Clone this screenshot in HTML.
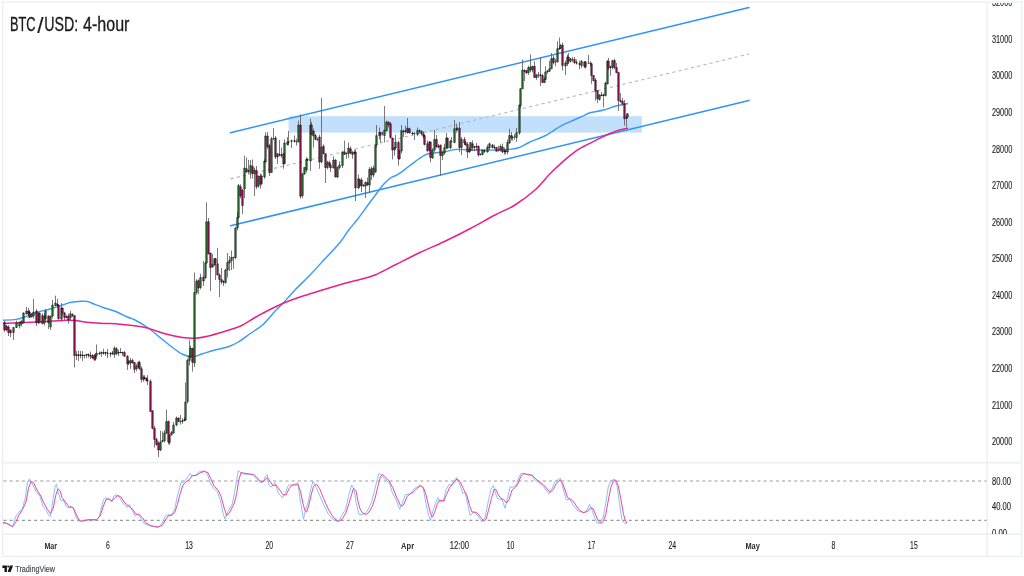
<!DOCTYPE html>
<html lang="en"><head><meta charset="utf-8"><title>BTC/USD: 4-hour</title>
<style>
html,body{margin:0;padding:0;background:#fff;}
body{width:1024px;height:576px;overflow:hidden;position:relative;font-family:"Liberation Sans","DejaVu Sans",sans-serif;}
svg{position:absolute;left:0;top:0;display:block;}
text{font-family:"Liberation Sans","DejaVu Sans",sans-serif;}
.ax{font-size:10px;fill:#1d1d1d;stroke:#1d1d1d;stroke-width:0.12px;}
.axb{font-size:9.6px;font-weight:bold;fill:#2c2c2c;}
</style></head><body>
<svg width="1024" height="576" viewBox="0 0 1024 576">
<rect width="1024" height="576" fill="#fff"/>
<defs><clipPath id="cm"><rect x="2.8" y="2.8" width="984" height="459.5"/></clipPath><clipPath id="cs"><rect x="2.8" y="463" width="984" height="71"/></clipPath><clipPath id="cp"><rect x="988" y="2.9" width="33" height="459"/></clipPath><clipPath id="cq"><rect x="988" y="463" width="33" height="70.9"/></clipPath></defs>
<g stroke="#eceef4" stroke-width="1.4" fill="none" style="filter:blur(0.35px)">
<path d="M2.6 2.15H1021.6V556.4H2.6z"/>
<path d="M2.6 462.8H1021.6"/>
<path d="M2.6 534.3H1021.6"/>
<path d="M987.1 2.15V556.4"/>
</g>
<g style="filter:blur(0.32px)">
<g clip-path="url(#cm)">
<rect x="288.6" y="116.2" width="353.2" height="16.4" fill="#bbdcfb" fill-opacity="0.9"/>
<path d="M230.5 178.9L749 54" stroke="#b4b4b4" stroke-width="1.1" stroke-dasharray="3.2 3.2" fill="none"/>
<g stroke="#3094f3" stroke-width="1.55" fill="none" stroke-linecap="round">
<path d="M230.4 132.7L749 7.5"/><path d="M230.6 225.8L749 100.4"/></g>
<path d="M3 320.25C5.17 320.11 12.33 319.96 16 319.4C19.67 318.84 21.42 318.09 25 316.9C28.58 315.71 33.33 313.57 37.5 312.25C41.67 310.93 45.83 310.21 50 309C54.17 307.79 58.96 306.12 62.5 305C66.04 303.88 68.12 302.88 71.25 302.25C74.38 301.62 78.54 301.38 81.25 301.25C83.96 301.12 85.21 300.98 87.5 301.5C89.79 302.02 92.29 303.36 95 304.4C97.71 305.44 100.42 306.61 103.75 307.75C107.08 308.89 110.96 309.67 115 311.25C119.04 312.83 124.67 315.79 128 317.25C131.33 318.71 131.75 318.29 135 320C138.25 321.71 143.33 324.58 147.5 327.5C151.67 330.42 155.83 334.17 160 337.5C164.17 340.83 168.75 344.71 172.5 347.5C176.25 350.29 179.17 352.71 182.5 354.25C185.83 355.79 189.17 356.83 192.5 356.75C195.83 356.67 198.75 354.88 202.5 353.75C206.25 352.62 210.83 351.12 215 350C219.17 348.88 223.75 348.25 227.5 347C231.25 345.75 233.75 344.71 237.5 342.5C241.25 340.29 245.83 336.67 250 333.75C254.17 330.83 258.33 328.75 262.5 325C266.67 321.25 271.46 315 275 311.25C278.54 307.5 280.42 306.04 283.75 302.5C287.08 298.96 290.62 294.58 295 290C299.38 285.42 305 280.21 310 275C315 269.79 320 264.17 325 258.75C330 253.33 336.04 247.29 340 242.5C343.96 237.71 345.75 233.96 348.75 230C351.75 226.04 354.79 222.92 358 218.75C361.21 214.58 365.08 208.96 368 205C370.92 201.04 373 198.33 375.5 195C378 191.67 380.5 187.83 383 185C385.5 182.17 388 179.77 390.5 178C393 176.23 394.92 176.36 398 174.4C401.08 172.44 405.5 168.86 409 166.25C412.5 163.64 416.08 160.72 419 158.75C421.92 156.78 424 155.36 426.5 154.4C429 153.44 431.08 153.42 434 153C436.92 152.58 440.25 152.5 444 151.9C447.75 151.3 451.83 149.72 456.5 149.4C461.17 149.08 464.5 149.9 472 150C479.5 150.1 493.88 150.33 501.5 150C509.12 149.67 513.17 149.25 517.75 148C522.33 146.75 524.62 144.46 529 142.5C533.38 140.54 540.25 138 544 136.25C547.75 134.5 548.58 133.78 551.5 132C554.42 130.22 557.75 127.6 561.5 125.6C565.25 123.6 570.25 121.67 574 120C577.75 118.33 581.33 116.81 584 115.6C586.67 114.39 586.71 113.68 590 112.75C593.29 111.82 599.58 111.08 603.75 110C607.92 108.92 610.96 107.33 615 106.25C619.04 105.17 625.83 103.96 628 103.5" stroke="#3b9af3" stroke-width="1.42" fill="none" stroke-linejoin="round"/>
<path d="M3 323.4C6.67 323.25 17.17 322.86 25 322.5C32.83 322.14 43.33 321.62 50 321.25C56.67 320.88 60.83 320.38 65 320.25C69.17 320.12 70.83 320.12 75 320.5C79.17 320.88 84.83 322.02 90 322.5C95.17 322.98 101 323.11 106 323.4C111 323.69 113.5 323.57 120 324.25C126.5 324.93 137.5 325.92 145 327.5C152.5 329.08 158.75 332.08 165 333.75C171.25 335.42 177.5 336.75 182.5 337.5C187.5 338.25 190.83 338.46 195 338.25C199.17 338.04 202.5 337.42 207.5 336.25C212.5 335.08 219.58 332.92 225 331.25C230.42 329.58 235 328.54 240 326.25C245 323.96 250 320.29 255 317.5C260 314.71 265.21 311.92 270 309.5C274.79 307.08 278.75 305.08 283.75 303C288.75 300.92 293.96 299.04 300 297C306.04 294.96 312.5 293.04 320 290.75C327.5 288.46 338.33 285.12 345 283.25C351.67 281.38 355 280.88 360 279.5C365 278.12 369.17 277.42 375 275C380.83 272.58 387.5 268.75 395 265C402.5 261.25 411.67 256.46 420 252.5C428.33 248.54 436.67 245.21 445 241.25C453.33 237.29 461.67 233.12 470 228.75C478.33 224.38 487.5 218.96 495 215C502.5 211.04 508.33 209.17 515 205C521.67 200.83 529.17 195.21 535 190C540.83 184.79 545.17 178.65 550 173.75C554.83 168.85 559.58 164.46 564 160.6C568.42 156.74 573.17 152.99 576.5 150.6C579.83 148.21 581.54 147.57 584 146.25C586.46 144.93 588.58 144.04 591.25 142.7C593.92 141.36 596.88 139.73 600 138.2C603.12 136.67 606.88 134.82 610 133.5C613.12 132.18 615.75 131.18 618.75 130.3C621.75 129.42 626.46 128.55 628 128.2" stroke="#ea2088" stroke-width="1.5" fill="none" stroke-linejoin="round"/>
<path d="M4.5 321V332M6.5 324.8V330.8M8.5 325.2V336M10.5 329.6V337M13.5 327.1V340M16.5 320.6V327.9M19.5 321.3V328.4M21.5 320.6V326.4M23.5 312.2V323.4M26.5 307V314.4M28.5 308V315.8M29.5 310.2V317.9M31.5 313.2V317.4M33.5 298.75V318.4M36.5 309.2V326M38.5 312.6V324.4M39.5 312.6V323.3M42.5 313.2V324.15M44.5 313.6V325.4M45.5 309.2V319.4M48.5 315.2V329M50.5 315.6V330M52.5 300V318.4M55.5 295.6V306.4M57.5 298.75V307.2M58.5 303.8V319.55M61.5 303V321.4M62.5 307.6V315.4M64.5 311.8V319.9M66.5 315.2V318.4M68.5 313.6V323.75M70.5 311V319.9M72.5 313.2V317.2M74.5 315.2V367.5M76.5 351V360M78.5 350.6V361M80.5 351V358.4M82.5 351.1V361M84.5 354.7V358.4M86.5 353.7V357.9M88.5 353.4V357.6M90.5 351.6V358.9M92.5 354V359M94.5 354V361M95.5 353.6V360.6M96.5 344.4V356.6M99.5 351.5V355.1M101.5 351.4V356.9M103.5 348.75V354.6M105.5 351.7V355.9M107.5 349V358M110.5 352V356.9M112.5 350.9V355M114.5 346.25V357.8M116.5 347.15V354.75M118.5 349.6V356M120.5 348V353.3M122.5 351.7V355.9M124.5 350.9V356.85M127.5 355.05V370M128.5 360.2V365.3M130.5 358V368.75M132.5 358.7V363.4M134.5 362.1V373M136.5 363.85V371.15M138.5 361.3V368.2M139.5 360.6V369.95M141.5 366.35V382.5M143.5 375.2V381.8M144.5 375.2V379.4M146.5 377.6V381.7M147.5 375V385M150.5 379.45V411.8M152.5 410.35V429.45M154.5 425.85V447.6M156.5 437.7V445.7M158.5 441.2V457M160.5 430.75V451.2M162.5 431.4V442.4M164.5 430V442.55M166.5 409.5V434.2M168.5 420.6V444.4M169.5 434.6V445M171.5 430.8V435.4M173.5 422V433.8M176.5 416.4V426.2M178.5 417.2V422.2M180.5 415V424.5M182.5 418.2V423.8M184.5 417.2V421.4M185.5 382.5V420.8M187.5 358.6V403.4M189.5 340.4V365.4M190.5 345.6V357.8M192.5 347.7V371.6M194.5 272.5V367M196.5 279.2V294.9M198.5 279.4V294M200.5 273.75V289.3M203.5 261V286M205.5 261.8V279.3M206.5 202.4V263.8M208.5 218V254.55M210.5 252.6V291M212.5 254V267.8M214.5 257.95V265.8M215.5 257.95V280M217.5 248V275.4M219.5 273.2V297M221.5 268V284.4M223.5 280.2V286M225.5 268.8V283.7M227.5 253V277.5M229.5 256V271M231.5 250.6V270M233.5 256.6V268.75M235.5 227.2V259.3M237.5 211.75V230.4M238.5 184V218.6M240.5 184.35V198.4M242.5 188.8V214M244.5 155.6V198M246.5 157.5V172.8M248.5 160V174.4M250.5 160V178.6M252.5 159.4V178.6M254.5 167.6V196M256.5 166V189M258.5 175.6V187.8M260.5 173.6V188.6M261.5 174.2V185.3M264.5 159.2V178.8M265.5 132.5V162.4M267.5 132V148.8M269.5 143.8V176M271.5 136.9V172.9M273.5 128V140.05M275.5 136V159M277.5 153.35V164M279.5 140V156.4M281.5 147.5V158.05M283.5 152.95V168.75M284.5 139.4V164.15M287.5 137V145.6M288.5 131V145.4M291.5 139.6V148M294.5 135.6V142.4M296.5 138.75V145.6M298.5 120.6V142.4M300.5 114.4V198.65M302.5 172.95V198M304.5 167.1V174.95M306.5 157V172.4M307.5 158.35V161M310.5 118.75V171M311.5 122V135.2M313.5 128.6V147.5M315.5 133.8V140.2M317.5 137.55V141.2M319.5 134.6V168.75M321.5 98V163.2M323.5 144.45V154.15M325.5 153.35V183M327.5 160.7V169.3M329.5 160.7V166.8M330.5 163.8V172M333.5 156.25V168.4M335.5 159.2V177.4M337.5 166.3V178.2M339.5 161.25V169.3M342.5 151.2V168M344.5 140.6V154.8M346.5 152.2V158.75M348.5 142.5V158M350.5 146.35V154.2M352.5 151.2V158.75M354.5 149.6V154.4M355.5 149.6V201M358.5 174.4V189.2M359.5 179V187.2M361.5 177.6V192M363.5 183.8V187.05M365.5 181.3V198M367.5 177.5V185.8M369.5 167V193M371.5 166.35V180M373.5 165.6V177.4M375.5 144.4V172.8M376.5 125V147.4M379.5 127.5V139.4M380.5 131.7V142.5M382.5 131.7V135.55M384.5 106V142.5M386.5 120.6V131.4M388.5 121.2V127.4M390.5 121.95V138.7M392.5 137.6V159.4M394.5 147.1V155.6M395.5 135V149.2M398.5 140.7V165.6M399.5 149.8V159.55M401.5 125V153.4M403.5 129.4V137M405.5 125.6V133.8M407.5 118V133.7M409.5 127.55V133.4M412.5 131.7V134.8M414.5 132.2V140M417.5 127.5V136.2M419.5 129.2V133.2M421.5 130.45V135.55M423.5 131.35V138.65M424.5 135.2V145.6M427.5 140.6V152.4M429.5 140.8V151M430.5 141.6V162.5M432.5 148.2V158.8M434.5 130V151.8M436.5 135V147.8M438.5 143.8V148.7M440.5 144.6V175.6M442.5 150.7V160M444.5 143.75V154.8M446.5 133V149.3M447.5 137.6V148.8M450.5 140.2V148.8M451.5 137V142.4M454.5 120V143.3M456.5 123.75V132.4M457.5 126.95V130.8M459.5 122V152M461.5 137V155M464.5 137V144.8M465.5 141.3V145.8M467.5 142V158M469.5 147V152.8M470.5 142.2V150.9M472.5 140.35V150.9M474.5 145.95V151.25M476.5 143.2V150.9M478.5 145.65V156.6M480.5 153.15V155.6M482.5 149.7V155.4M484.5 149.4V153M487.5 144.6V152.6M489.5 142.5V149.9M492.5 144V148.5M494.5 144.5V149.6M496.5 146.9V151.55M498.5 146V151.6M500.5 144.4V151.6M502.5 143.6V153M504.5 147.6V154.4M505.5 149V154.4M507.5 139.4V154.4M509.5 128.75V143.8M511.5 132V140.4M512.5 136.2V140.6M514.5 133.85V139.9M516.5 128V142M519.5 104.6V134.8M520.5 87.95V108M522.5 59.4V89.15M524.5 69.2V81M526.5 69.8V73.8M528.5 65.7V75M530.5 54.4V72.4M532.5 65.85V72.4M534.5 61.25V77.9M536.5 73.8V79.9M538.5 72V78M540.5 57.5V86M542.5 73.8V82.9M544.5 77V82.9M545.5 66.25V80.2M547.5 69.8V73.7M549.5 60.6V71.65M551.5 53V69.15M553.5 55.6V64.3M555.5 58.85V66.25M557.5 41.25V62.4M559.5 37.5V49.8M560.5 43.8V49.2M562.5 42.5V70.6M565.5 60.6V75M567.5 54.6V66.15M568.5 53V63.65M570.5 57.95V62.45M572.5 56.95V62.4M574.5 57V64.3M576.5 59.5V64.55M579.5 60.6V69.4M581.5 60.05V68M584.5 61.1V68.05M585.5 61.1V68.7M588.5 55V64.15M590.5 61.2V66.2M591.5 62.55V83.75M593.5 75.2V81.4M595.5 78.2V100.6M597.5 90.2V103M599.5 94.2V100.6M601.5 91.9V96.4M603.5 93.6V107.5M605.5 81.8V96.4M607.5 60.05V84.55M608.5 58V69.8M610.5 65.45V75.6M612.5 60.2V69.3M614.5 58.75V69.3M616.5 63V73.3M618.5 71.7V111M620.5 93V102.7M622.5 98V105.55M624.5 100V125.6M626.5 114.5V127.5M627.5 113V118.8" stroke="#585858" stroke-width="0.8" fill="none"/>
<path d="M56.6 304.26h1.8V305.49h-1.8zM65.6 316.45h1.8V317.55h-1.8zM71.6 314.45h1.8V315.55h-1.8zM75.6 354.45h1.8V355.55h-1.8zM77.6 354.82h1.8V355.68h-1.8zM79.6 354.45h1.8V355.55h-1.8zM81.6 354.95h1.8V356.05h-1.8zM83.6 355.07h1.8V355.93h-1.8zM85.6 354.32h1.8V355.18h-1.8zM87.6 354.45h1.8V355.55h-1.8zM89.6 355.32h1.8V356.18h-1.8zM98.6 352.95h1.8V354.05h-1.8zM100.6 352.32h1.8V353.18h-1.8zM102.6 352.45h1.8V353.55h-1.8zM104.6 352.32h1.8V353.18h-1.8zM106.6 352.82h1.8V353.68h-1.8zM109.6 353.32h1.8V354.18h-1.8zM111.6 352.82h1.8V353.68h-1.8zM117.6 352.32h1.8V353.18h-1.8zM119.6 352.07h1.8V352.93h-1.8zM121.6 352.32h1.8V353.18h-1.8zM143.6 377.45h1.8V378.55h-1.8zM146.6 379.82h1.8V380.83h-1.8zM161.6 440.45h1.8V441.55h-1.8zM179.6 420.95h1.8V421.8h-1.8zM181.6 420.45h1.8V421.55h-1.8zM183.6 419.45h1.8V420.55h-1.8zM222.6 281.45h1.8V282.55h-1.8zM232.6 257.07h1.8V257.93h-1.8zM247.6 170.45h1.8V171.55h-1.8zM272.6 138.2h1.8V139.05h-1.8zM278.6 154.17h1.8V155.18h-1.8zM280.6 154.82h1.8V155.83h-1.8zM287.6 141.64h1.8V142.61h-1.8zM290.6 140.45h1.8V141.55h-1.8zM293.6 140.45h1.8V141.55h-1.8zM295.6 141.45h1.8V142.3h-1.8zM306.6 159.17h1.8V160.18h-1.8zM316.6 138.95h1.8V139.8h-1.8zM345.6 153.27h1.8V154.12h-1.8zM353.6 152.45h1.8V153.55h-1.8zM362.6 185.2h1.8V186.05h-1.8zM381.6 132.7h1.8V133.55h-1.8zM402.6 131.03h1.8V132.07h-1.8zM404.6 130.45h1.8V131.55h-1.8zM411.6 132.93h1.8V133.97h-1.8zM413.6 133.27h1.8V134.12h-1.8zM418.6 130.45h1.8V131.55h-1.8zM437.6 146.03h1.8V147.07h-1.8zM450.6 140.88h1.8V141.73h-1.8zM455.6 128.45h1.8V129.55h-1.8zM456.6 128.95h1.8V129.8h-1.8zM473.6 146.64h1.8V147.61h-1.8zM475.6 146.03h1.8V147.07h-1.8zM479.6 153.95h1.8V154.8h-1.8zM483.6 150.45h1.8V151.55h-1.8zM493.6 147.02h1.8V147.88h-1.8zM497.6 149.57h1.8V150.43h-1.8zM503.6 150.45h1.8V151.55h-1.8zM504.6 151.03h1.8V152.07h-1.8zM511.6 137.07h1.8V137.93h-1.8zM513.6 136.45h1.8V137.3h-1.8zM523.6 70.45h1.8V71.55h-1.8zM537.6 74.58h1.8V75.42h-1.8zM539.6 74.82h1.8V75.83h-1.8zM546.6 71.03h1.8V72.07h-1.8zM554.6 61.45h1.8V62.3h-1.8zM558.6 47.93h1.8V48.97h-1.8zM571.6 58.95h1.8V59.8h-1.8zM575.6 62.32h1.8V63.33h-1.8zM578.6 63.45h1.8V64.55h-1.8zM587.6 62.7h1.8V63.55h-1.8zM589.6 63.28h1.8V64.12h-1.8zM600.6 94.76h1.8V95.64h-1.8zM602.6 94.76h1.8V95.64h-1.8zM609.6 66.64h1.8V67.61h-1.8zM619.6 100.43h1.8V101.47h-1.8zM625.6 117.32h1.8V118.33h-1.8z" fill="#1c1a1c"/>
<path d="M12.72 327.5h1.55V332.5h-1.55zM15.72 323h1.55V327.5h-1.55zM18.73 322.5h1.55V326h-1.55zM20.73 321h1.55V324h-1.55zM22.73 313h1.55V323h-1.55zM25.73 311h1.55V314h-1.55zM30.73 314h1.55V317h-1.55zM32.73 312h1.55V316h-1.55zM37.73 313h1.55V322h-1.55zM43.73 316h1.55V323h-1.55zM44.73 311h1.55V319h-1.55zM49.73 316h1.55V327h-1.55zM51.73 305h1.55V316h-1.55zM54.73 303h1.55V305.6h-1.55zM60.73 308h1.55V319h-1.55zM69.72 313.75h1.55V317.5h-1.55zM76 354.55h1V355.45h-1zM80 354.55h1V355.45h-1zM86 354.43h1V355.07h-1zM94.72 356h1.55V359h-1.55zM95.72 353h1.55V355.6h-1.55zM99 353.05h1V353.95h-1zM101 352.43h1V353.07h-1zM105 352.43h1V353.07h-1zM110 353.43h1V354.07h-1zM112 352.93h1V353.57h-1zM113.72 348h1.55V354.4h-1.55zM127.72 361h1.55V363.5h-1.55zM129.72 360.6h1.55V363h-1.55zM135.72 366.25h1.55V368.75h-1.55zM137.72 362.5h1.55V367h-1.55zM142.72 377h1.55V379.4h-1.55zM159.72 442h1.55V450h-1.55zM162 440.55h1V441.45h-1zM163.72 433h1.55V440.75h-1.55zM165.72 421.4h1.55V433h-1.55zM168.72 435h1.55V442.6h-1.55zM170.72 432.6h1.55V435h-1.55zM172.72 425h1.55V433h-1.55zM175.72 418h1.55V425h-1.55zM182 420.55h1V421.45h-1zM184 419.55h1V420.45h-1zM184.72 402h1.55V420h-1.55zM186.72 360.4h1.55V401.6h-1.55zM188.72 356h1.55V360.4h-1.55zM189.72 348h1.55V356.6h-1.55zM193.72 292.5h1.55V362.9h-1.55zM195.72 281h1.55V292.5h-1.55zM199.72 277.5h1.55V287.5h-1.55zM204.72 263h1.55V277.5h-1.55zM205.72 221.75h1.55V263h-1.55zM211.72 264.4h1.55V267h-1.55zM213.72 258.75h1.55V265h-1.55zM223 281.55h1V282.45h-1zM224.72 270h1.55V282.5h-1.55zM226.72 262.5h1.55V270h-1.55zM228.72 260.6h1.55V263h-1.55zM230.72 257.5h1.55V260.6h-1.55zM234.72 228h1.55V257.5h-1.55zM236.72 217.4h1.55V228h-1.55zM237.72 185.5h1.55V217.4h-1.55zM243.72 168h1.55V189h-1.55zM249.72 165.6h1.55V172.5h-1.55zM253.72 170h1.55V173.75h-1.55zM257.73 176h1.55V186h-1.55zM260.73 176h1.55V183.5h-1.55zM263.73 161h1.55V177h-1.55zM264.73 136h1.55V162h-1.55zM270.73 138.75h1.55V172.5h-1.55zM276.73 153.75h1.55V157h-1.55zM283.73 143h1.55V163.75h-1.55zM286.73 142h1.55V144.4h-1.55zM288 141.74h1V142.51h-1zM291 140.55h1V141.45h-1zM297.73 125h1.55V142h-1.55zM301.73 173.75h1.55V195.6h-1.55zM303.73 167.5h1.55V173.75h-1.55zM305.73 159.4h1.55V170h-1.55zM309.73 125h1.55V161h-1.55zM320.73 147h1.55V162h-1.55zM326.73 162.5h1.55V167.5h-1.55zM332.73 160h1.55V168h-1.55zM336.73 167.5h1.55V177h-1.55zM338.73 165h1.55V167.5h-1.55zM341.73 152h1.55V165.6h-1.55zM347.73 148h1.55V153.75h-1.55zM351.73 152h1.55V154.4h-1.55zM357.73 178.75h1.55V188h-1.55zM364.73 182.5h1.55V186.25h-1.55zM368.73 169.4h1.55V185h-1.55zM372.73 168h1.55V175h-1.55zM374.73 145.6h1.55V172h-1.55zM375.73 135.6h1.55V145h-1.55zM378.73 132.5h1.55V135.6h-1.55zM383.73 130h1.55V135.6h-1.55zM385.73 122h1.55V130.6h-1.55zM393.73 147.5h1.55V150h-1.55zM394.73 142h1.55V148h-1.55zM398.73 151h1.55V158.75h-1.55zM400.73 130.6h1.55V151h-1.55zM405 130.55h1V131.45h-1zM416.73 130.6h1.55V134.4h-1.55zM419 130.55h1V131.45h-1zM428.73 142h1.55V150.6h-1.55zM431.73 150h1.55V158h-1.55zM433.73 139.4h1.55V150h-1.55zM441.73 152.5h1.55V155.6h-1.55zM443.73 147.5h1.55V153h-1.55zM445.73 138h1.55V147.5h-1.55zM449.73 141h1.55V148h-1.55zM453.73 128.75h1.55V142.5h-1.55zM460.73 139.4h1.55V147.5h-1.55zM469.73 142.5h1.55V150.6h-1.55zM481.73 150h1.55V154.4h-1.55zM484 150.55h1V151.45h-1zM486.73 147h1.55V152h-1.55zM488.73 143.75h1.55V147.5h-1.55zM499.73 146.25h1.55V150h-1.55zM506.73 142.5h1.55V152h-1.55zM508.73 135.6h1.55V143h-1.55zM515.73 132.5h1.55V137.5h-1.55zM518.73 105h1.55V133h-1.55zM519.73 88.75h1.55V105.6h-1.55zM521.73 70h1.55V88.75h-1.55zM527.73 67.5h1.55V72.5h-1.55zM529.73 67h1.55V70h-1.55zM531.73 66.25h1.55V70h-1.55zM535.73 75h1.55V77.5h-1.55zM543.73 79.4h1.55V82.5h-1.55zM544.73 72h1.55V79.4h-1.55zM547 71.13h1V71.97h-1zM548.73 68.75h1.55V71.25h-1.55zM550.73 58.75h1.55V68.75h-1.55zM556.73 48.75h1.55V62h-1.55zM559 48.03h1V48.87h-1zM559.73 45.6h1.55V48h-1.55zM564.73 63h1.55V66h-1.55zM566.73 57h1.55V63.75h-1.55zM569.73 58.75h1.55V61.25h-1.55zM580.73 61.25h1.55V65.6h-1.55zM584.73 61.9h1.55V66.9h-1.55zM598.73 95h1.55V99.4h-1.55zM601 94.86h1V95.54h-1zM604.73 83h1.55V95.6h-1.55zM606.73 61.25h1.55V83.75h-1.55zM611.73 60.6h1.55V67.5h-1.55zM626.73 113.75h1.55V117h-1.55z" fill="#2a762f" stroke="#0c120c" stroke-width="0.5"/>
<path d="M3.73 322.5h1.55V330h-1.55zM5.72 326h1.55V330h-1.55zM7.72 327h1.55V332.5h-1.55zM9.72 330h1.55V333h-1.55zM27.73 311h1.55V314h-1.55zM28.73 312h1.55V317.5h-1.55zM35.73 311h1.55V323h-1.55zM38.73 313h1.55V322.5h-1.55zM41.73 315.6h1.55V323.75h-1.55zM47.73 316h1.55V323h-1.55zM57 304.36h1V305.39h-1zM57.73 305.6h1.55V318.75h-1.55zM61.73 308h1.55V313h-1.55zM63.73 313h1.55V317.5h-1.55zM66 316.55h1V317.45h-1zM67.72 316h1.55V320h-1.55zM72 314.55h1V315.45h-1zM73.72 315.6h1.55V355.6h-1.55zM78 354.93h1V355.57h-1zM82 355.05h1V355.95h-1zM88 354.55h1V355.45h-1zM90 355.43h1V356.07h-1zM91.72 355.6h1.55V358h-1.55zM93.72 355.6h1.55V359.4h-1.55zM103 352.55h1V353.45h-1zM107 352.93h1V353.57h-1zM115.72 348.75h1.55V353.75h-1.55zM118 352.43h1V353.07h-1zM122 352.43h1V353.07h-1zM123.72 352.5h1.55V356.25h-1.55zM126.72 356.25h1.55V363.75h-1.55zM131.72 360.5h1.55V363h-1.55zM133.72 362.5h1.55V369.4h-1.55zM138.72 362.5h1.55V368.75h-1.55zM140.72 368.75h1.55V379.4h-1.55zM144 377.55h1V378.45h-1zM145.72 378h1.55V380.5h-1.55zM147 379.92h1V380.73h-1zM149.72 381.25h1.55V411.4h-1.55zM151.72 410.75h1.55V428.25h-1.55zM153.72 428.25h1.55V439.5h-1.55zM155.72 439.5h1.55V444.5h-1.55zM157.72 443h1.55V450h-1.55zM167.72 421.4h1.55V442h-1.55zM177.72 418h1.55V421.4h-1.55zM191.72 348.5h1.55V362.25h-1.55zM197.72 280.6h1.55V288h-1.55zM202.72 277h1.55V281h-1.55zM207.72 221.75h1.55V253.75h-1.55zM209.72 253h1.55V267.5h-1.55zM214.72 258.75h1.55V263h-1.55zM216.72 263.75h1.55V275h-1.55zM218.72 275h1.55V279.4h-1.55zM220.72 279.4h1.55V282h-1.55zM239.72 186.75h1.55V196h-1.55zM241.72 190h1.55V205.5h-1.55zM245.72 168.75h1.55V172h-1.55zM248 170.55h1V171.45h-1zM251.72 166.25h1.55V173.6h-1.55zM255.72 170.6h1.55V186.75h-1.55zM259.73 176h1.55V184h-1.55zM266.73 136h1.55V147h-1.55zM268.73 145.6h1.55V172.5h-1.55zM274.73 138h1.55V157h-1.55zM279 154.27h1V155.08h-1zM281 154.92h1V155.73h-1zM282.73 153.75h1.55V163.75h-1.55zM294 140.55h1V141.45h-1zM299.73 125h1.55V196.25h-1.55zM307 159.27h1V160.08h-1zM310.73 125h1.55V134.4h-1.55zM312.73 131h1.55V136h-1.55zM314.73 135.6h1.55V139.4h-1.55zM318.73 137h1.55V162h-1.55zM322.73 146.25h1.55V153.75h-1.55zM324.73 153.75h1.55V167.5h-1.55zM328.73 162.5h1.55V165h-1.55zM329.73 165h1.55V168h-1.55zM334.73 160h1.55V177h-1.55zM343.73 152h1.55V154.4h-1.55zM349.73 148.75h1.55V153h-1.55zM354 152.55h1V153.45h-1zM354.73 152h1.55V188h-1.55zM358.73 179.4h1.55V186h-1.55zM360.73 180h1.55V186h-1.55zM366.73 182.5h1.55V185h-1.55zM370.73 168.75h1.55V175h-1.55zM379.73 132.5h1.55V135h-1.55zM387.73 122h1.55V125h-1.55zM389.73 123.75h1.55V137.5h-1.55zM391.73 138h1.55V150h-1.55zM397.73 142.5h1.55V158.75h-1.55zM403 131.13h1V131.97h-1zM406.73 128h1.55V132.5h-1.55zM408.73 128.75h1.55V133h-1.55zM412 133.03h1V133.87h-1zM420.73 131.25h1.55V133.75h-1.55zM422.73 133.75h1.55V136.25h-1.55zM423.73 135.6h1.55V144.4h-1.55zM426.73 143.75h1.55V150.6h-1.55zM429.73 142h1.55V157.5h-1.55zM435.73 139.4h1.55V147h-1.55zM438 146.13h1V146.97h-1zM439.73 145h1.55V155.6h-1.55zM446.73 138h1.55V148h-1.55zM456 128.55h1V129.45h-1zM458.73 128h1.55V147.5h-1.55zM463.73 139.4h1.55V143h-1.55zM464.73 142.5h1.55V145h-1.55zM466.73 144.4h1.55V152h-1.55zM468.73 149.4h1.55V152h-1.55zM471.73 143.75h1.55V147.5h-1.55zM474 146.74h1V147.51h-1zM476 146.13h1V146.97h-1zM477.73 146.25h1.55V155h-1.55zM491.73 145h1.55V147.5h-1.55zM495.73 147.5h1.55V151.25h-1.55zM501.73 147h1.55V152h-1.55zM504 150.55h1V151.45h-1zM505 151.13h1V151.97h-1zM510.73 135.6h1.55V138h-1.55zM524 70.55h1V71.45h-1zM525.73 70.6h1.55V73h-1.55zM533.73 66.25h1.55V77.5h-1.55zM540 74.92h1V75.73h-1zM541.73 75.6h1.55V82.5h-1.55zM552.73 58h1.55V62.5h-1.55zM561.73 45h1.55V65.6h-1.55zM567.73 57h1.55V61.25h-1.55zM573.73 59.4h1.55V62.5h-1.55zM576 62.42h1V63.23h-1zM579 63.55h1V64.45h-1zM583.73 61.9h1.55V66.25h-1.55zM590.73 63.75h1.55V75.6h-1.55zM592.73 75.6h1.55V80.6h-1.55zM594.73 80h1.55V91.25h-1.55zM596.73 90.6h1.55V98.75h-1.55zM603 94.86h1V95.54h-1zM607.73 61.25h1.55V68h-1.55zM610 66.74h1V67.51h-1zM613.73 60.6h1.55V67.5h-1.55zM615.73 67.5h1.55V72.5h-1.55zM617.73 72.5h1.55V100.6h-1.55zM620 100.53h1V101.37h-1zM621.73 101.25h1.55V103.75h-1.55zM623.73 103.75h1.55V118.75h-1.55zM626 117.42h1V118.23h-1z" fill="#98175a" stroke="#160a10" stroke-width="0.5"/>
</g>
<g clip-path="url(#cs)">
<g stroke="#999999" stroke-width="1.2" stroke-dasharray="3 3.13" fill="none">
<path d="M3.5 481H986.5"/><path d="M3.5 520.4H986.5"/></g>
<path d="M3 523.9L5 522.4L12.5 527L15.5 517L19 512L22 509.5L25 499.5L27.5 482L29.4 478.9L32 483.25L36 491.4L40 496.4L43 506.4L46 509.5L48.5 515L50.5 516.4L53 499.5L55 487L56.5 483.9L58 492L61 500.75L64 500.75L66 506.4L68 508.25L71 505.75L73.5 508.25L76 517L78 521L82 520.75L88 519.5L96 520L99 517L101 509.5L103.5 499.5L106 497.6L109 499.5L112 502L113.5 496.4L117 494.75L120 498.25L123 503.25L127 507.6L129.25 504.5L134.9 515.75L138.6 514.25L143.6 523.25L149.9 526L158 527.4L161.75 523.9L165.5 515.75L169.25 514.5L171.75 515L174.9 508.25L177.4 495.75L181 482.6L184.25 482L186.75 478.25L190.25 473.25L191.75 476L196 475L199.9 471.4L204.25 471L207.4 473.9L209.9 482L213 487.6L217.4 492L220.5 500.75L223 513.25L224.9 518.9L228 511.4L232.4 503.9L235.5 487L238.25 470.5L240.5 472.6L244.25 474.25L253 474.5L256 478.25L260.4 483L263.5 481.4L265.4 476.4L267.25 474.5L269 485L271 487.25L274.75 482.6L278.5 493.25L282.5 498L285.4 493.25L288.5 485L293.5 485L297.9 482.6L299.75 497L303.5 519.25L305.4 510L307.9 503.25L311 488.25L312.9 481.4L315.4 485.75L318.5 492.6L323.5 504.5L328.5 514.5L333.5 519.75L337.9 521.75L341.6 515.75L345.4 509.5L348.5 496.4L351.6 485L354 488.9L356 502L359 514.5L364.75 513.9L367.9 510L371.6 502L375.4 487L379 473.25L381.6 475L384 478.25L389.6 483.25L392.1 492L396.5 500.75L399.6 509.25L402.1 503.9L405.25 494.75L410.25 493.9L414 488.9L420.25 485.1L423.4 488.9L425.9 503.25L428.4 514.5L430.5 520.5L432.75 511.4L435.25 503.9L437.75 497.6L440.25 502.25L443.4 500.75L445.9 490.1L449 484.5L451.5 485.1L456.5 477.4L459 482.6L462.75 493.25L465.25 492.6L467.75 504.5L470.25 515.5L474 511.75L477.75 515.75L482.1 522L485.25 517L488.4 500.75L490.9 489.5L493.4 485.5L495.9 494.5L497.75 498.9L502.1 499.5L505 508.25L507.75 497L510.25 486.4L512 487.6L516.4 485.1L518.9 477L521.4 473L525.75 474.5L532 475.5L535.1 480.1L538.9 482.6L543.25 486.4L548.9 493.9L552 488.9L555.1 481.4L560.5 478.25L562.6 487L566.4 500.1L569.5 498.9L573.25 505.1L577 510.1L583.25 513L587 510.1L589.5 504.5L592 510.1L594.5 517L597 523L600.1 523.25L603.25 517L605.75 503.25L608.25 487L610.75 480.75L614.5 479.25L617 485.75L619.5 503.25L621.75 519.5L624.5 523.25L627 523.25" stroke="#7bbaf8" stroke-width="0.9" fill="none" stroke-linejoin="round"/>
<path d="M3 522.4L8 523.9L12.5 526.6L15.5 522.6L19 515L22.5 509.5L26 502L28.5 488.25L31 481.4L33.5 482.6L37 490L41 496.4L44 503.25L47.5 509.5L50.5 513.5L53 508.9L56 494.5L58 488.9L60 490.75L62 497.6L65 501.4L69 507L73 507.6L76 513.9L79 520L81.5 521.4L89 519.75L96.5 519.75L100 516.4L103 507L106 499.5L109 498.9L112 500.75L115 497.6L118 495.5L121 497L124 502L128 505.75L133 509.5L135.5 513.9L139.25 514.5L142.4 517.6L145.5 522.6L150.5 525.4L154.25 526.4L158.6 527L162.4 525L165.5 520L168.6 515.5L171 515.75L174.9 512L177.4 504.5L179.9 494.5L183 485L186.75 481.4L189.9 478.9L192.4 475.5L196 475.5L199.9 473L204.25 471.4L208 472.6L210.5 478.25L214.25 486.4L218 490L221 496.4L224.25 508.25L226.75 515.75L229.9 512L234.25 503.25L236.75 493.25L238.6 480.75L241 472.6L244.9 473.25L249.25 474L253.6 474.5L256 476.4L259.75 480.75L262.9 482L267.25 477.6L269.75 480.75L272.9 485.75L276 485L279 488.9L282.9 494.75L286 495L289 488.9L292.25 484.9L296 485L297.9 484.5L300.4 490.75L302.9 503.25L304.75 510L306.6 512.25L309 504.5L311.6 493.25L313.5 486.4L316.6 484.25L319.75 488.9L323.5 498.25L327.25 507L331 513.9L334.75 518.9L338.5 521.4L342.25 518.9L346 512.6L349 503.25L351.6 494.5L353.5 488.25L356 490.75L357.9 500.75L359.75 508.25L362.25 512.6L366 514.5L369 512L372.25 506.4L375.4 497L377.9 486.4L380.4 477L382.25 474.5L384 475.75L389 480.75L392.75 487.6L396.5 497L400.25 505.1L402.1 506.4L404 503.9L407.1 496.4L410.25 493.9L413.4 492L417.1 488.25L420.9 485.75L423.4 487.6L425.9 494.5L428.4 505.1L430.9 514.5L432.5 517L434.6 512.6L437.1 504.5L439.6 500.1L444 501L446.5 494.5L449.6 487.6L453.4 483.25L457.1 478.9L460.25 482L463.4 488.9L467.1 495.75L469.6 505.75L472.1 512L476.5 512.4L479 515.1L483.4 520.75L485.9 519.5L488.4 510.75L491.5 498.25L494 489.5L495.9 489.5L498.4 495.1L500.9 498.25L503.4 499.5L506.5 503L509 499.5L512 490.1L515.75 487L518.25 483.25L520.75 476.4L523.9 473.5L528.25 474.5L532 475.1L535.75 478.9L539.5 482L543.25 484.5L547 488.9L550.1 492.25L553.25 489.5L556.4 483.25L560.1 480.1L562.6 483.25L565.1 490.1L567.6 497.6L570.75 499.25L573.9 502L577 507L580.1 510.75L583.9 512.6L587.6 511.4L590.75 507.6L593.25 508.9L595.75 515.1L598.25 520.75L600.75 523.25L603.25 521.4L605.75 514.5L608.25 500.75L610.75 487.6L613.25 481.4L615.75 480.1L618.25 485.75L620.75 498.25L623.25 513.25L625.1 520.1L627 523" stroke="#ed4494" stroke-width="0.98" fill="none" stroke-linejoin="round"/>
</g>
</g>
<g style="filter:blur(0.3px)">
<text x="10" y="31.3" font-size="20" fill="#1c1c1c" stroke="#1c1c1c" stroke-width="0.35" textLength="25.6" lengthAdjust="spacingAndGlyphs">BTC</text>
<text x="44.3" y="31.3" font-size="20" fill="#1c1c1c" stroke="#1c1c1c" stroke-width="0.35" textLength="34" lengthAdjust="spacingAndGlyphs">USD:</text>
<text x="83" y="31.3" font-size="20" fill="#1c1c1c" stroke="#1c1c1c" stroke-width="0.35" textLength="46.4" lengthAdjust="spacingAndGlyphs">4-hour</text>
<text x="37.2" y="32.6" font-size="22.5" fill="#1c1c1c" stroke="#1c1c1c" stroke-width="0.2">/</text>
<g clip-path="url(#cp)">
<text class="ax" x="992" y="6.28" textLength="20.3" lengthAdjust="spacingAndGlyphs">32000</text>
<text class="ax" x="992" y="42.85" textLength="20.3" lengthAdjust="spacingAndGlyphs">31000</text>
<text class="ax" x="992" y="79.42" textLength="20.3" lengthAdjust="spacingAndGlyphs">30000</text>
<text class="ax" x="992" y="115.99" textLength="20.3" lengthAdjust="spacingAndGlyphs">29000</text>
<text class="ax" x="992" y="152.56" textLength="20.3" lengthAdjust="spacingAndGlyphs">28000</text>
<text class="ax" x="992" y="189.13" textLength="20.3" lengthAdjust="spacingAndGlyphs">27000</text>
<text class="ax" x="992" y="225.7" textLength="20.3" lengthAdjust="spacingAndGlyphs">26000</text>
<text class="ax" x="992" y="262.27" textLength="20.3" lengthAdjust="spacingAndGlyphs">25000</text>
<text class="ax" x="992" y="298.84" textLength="20.3" lengthAdjust="spacingAndGlyphs">24000</text>
<text class="ax" x="992" y="335.41" textLength="20.3" lengthAdjust="spacingAndGlyphs">23000</text>
<text class="ax" x="992" y="371.98" textLength="20.3" lengthAdjust="spacingAndGlyphs">22000</text>
<text class="ax" x="992" y="408.55" textLength="20.3" lengthAdjust="spacingAndGlyphs">21000</text>
<text class="ax" x="992" y="445.12" textLength="20.3" lengthAdjust="spacingAndGlyphs">20000</text>
</g>
<g clip-path="url(#cq)">
<text class="ax" x="992" y="484.5" textLength="19" lengthAdjust="spacingAndGlyphs">80.00</text>
<text class="ax" x="992" y="510.3" textLength="19" lengthAdjust="spacingAndGlyphs">40.00</text>
<text class="ax" x="992" y="536.6" textLength="15.2" lengthAdjust="spacingAndGlyphs">0.00</text>
</g>
<text class="axb" x="44.45" y="548.6" textLength="12.6" lengthAdjust="spacingAndGlyphs">Mar</text>
<text class="ax" x="106.1" y="548.6" textLength="3.8" lengthAdjust="spacingAndGlyphs">6</text>
<text class="ax" x="185.2" y="548.6" textLength="7.6" lengthAdjust="spacingAndGlyphs">13</text>
<text class="ax" x="265.45" y="548.6" textLength="7.6" lengthAdjust="spacingAndGlyphs">20</text>
<text class="ax" x="346.1" y="548.6" textLength="7.8" lengthAdjust="spacingAndGlyphs">27</text>
<text class="axb" x="401.1" y="548.6" textLength="13" lengthAdjust="spacingAndGlyphs">Apr</text>
<text class="ax" x="449.8" y="548.6" textLength="19.2" lengthAdjust="spacingAndGlyphs">12:00</text>
<text class="ax" x="506.8" y="548.6" textLength="7.6" lengthAdjust="spacingAndGlyphs">10</text>
<text class="ax" x="587.7" y="548.6" textLength="7.6" lengthAdjust="spacingAndGlyphs">17</text>
<text class="ax" x="668.4" y="548.6" textLength="7.8" lengthAdjust="spacingAndGlyphs">24</text>
<text class="axb" x="745.4" y="548.6" textLength="14.4" lengthAdjust="spacingAndGlyphs">May</text>
<text class="ax" x="831.6" y="548.6" textLength="3.8" lengthAdjust="spacingAndGlyphs">8</text>
<text class="ax" x="910.1" y="548.6" textLength="7.6" lengthAdjust="spacingAndGlyphs">15</text>
<g fill="#161616"><path d="M2.4 565.4H6.9V571.9H4.5V568H2.4z"/><circle cx="8.15" cy="566.45" r="0.95"/><path d="M9.8 565.4H13.1L10.6 571.9H7.7z"/></g>
<text x="15.3" y="571.9" font-size="8.6" fill="#40444f" stroke="#40444f" stroke-width="0.15" textLength="39.7" lengthAdjust="spacingAndGlyphs">TradingView</text>
</g>
</svg>
</body></html>
